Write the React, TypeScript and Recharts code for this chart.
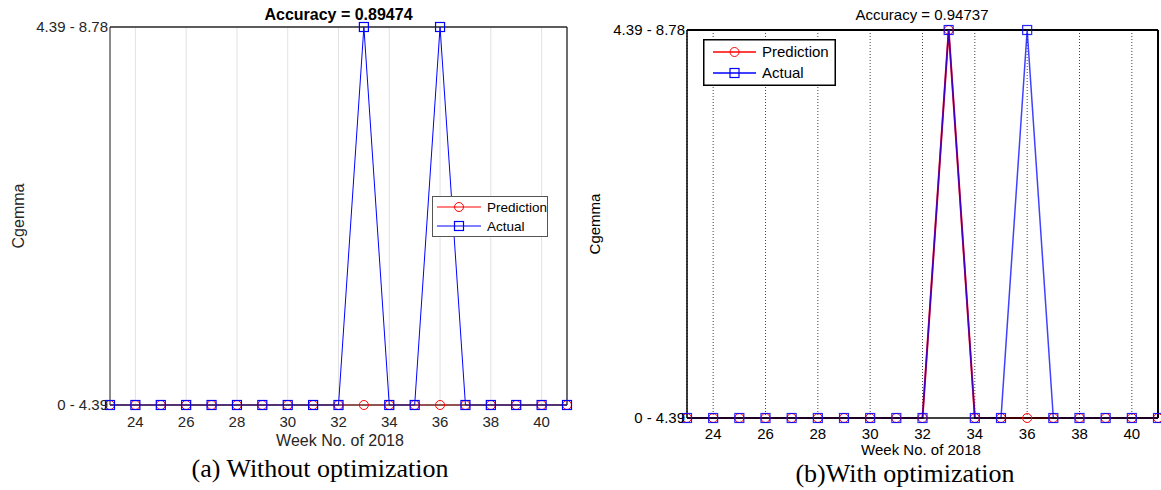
import React from 'react';
import { LineChart, Line, XAxis, YAxis, CartesianGrid, Legend, ReferenceLine } from 'recharts';

// week numbers on the x axis
const weeks = [23, 24, 25, 26, 27, 28, 29, 30, 31, 32, 33, 34, 35, 36, 37, 38, 39, 40, 41];
// class index: 0 = "0 - 4.39", 1 = "4.39 - 8.78"
const actual = [0, 0, 0, 0, 0, 0, 0, 0, 0, 0, 1, 0, 0, 1, 0, 0, 0, 0, 0];
const predictionNoOpt = [0, 0, 0, 0, 0, 0, 0, 0, 0, 0, 0, 0, 0, 0, 0, 0, 0, 0, 0];
const predictionOpt = [0, 0, 0, 0, 0, 0, 0, 0, 0, 0, 1, 0, 0, 0, 0, 0, 0, 0, 0];
const xTicks = [24, 26, 28, 30, 32, 34, 36, 38, 40];
const yTickLabels = ['0 - 4.39', '4.39 - 8.78'];
const titles = ['Accuracy = 0.89474', 'Accuracy = 0.94737'];
const captions = ['(a) Without optimization', '(b)With optimization'];

const SANS = '"Liberation Sans", Arial, sans-serif';
const SERIF = '"Liberation Serif", "Times New Roman", serif';
const RED = '#ff0000';
const BLUE = '#0000ff';

const dataNoOpt = weeks.map((week, i) => ({ week, prediction: predictionNoOpt[i], actual: actual[i] }));
const dataOpt = weeks.map((week, i) => ({ week, prediction: predictionOpt[i], actual: actual[i] }));

const circleDot = (color: string) => (props: any) => {
  const { cx, cy, index } = props;
  if (cx == null || cy == null) return <g key={`c-${index}`} />;
  return <circle key={`c-${index}`} cx={cx} cy={cy} r={4.5} fill="none" stroke={color} strokeWidth={1} />;
};

const squareDot = (color: string, opacity = 1) => (props: any) => {
  const { cx, cy, index } = props;
  if (cx == null || cy == null) return <g key={`s-${index}`} />;
  return (
    <rect key={`s-${index}`} x={cx - 4.5} y={cy - 4.5} width={9} height={9} fill="none"
      stroke={color} strokeOpacity={opacity} strokeWidth={1.2} />
  );
};

const Txt = ({ x, y, children, style }: any) => (
  <div style={{
    position: 'absolute', left: x, top: y, transform: 'translate(-50%, -50%)',
    whiteSpace: 'nowrap', lineHeight: 1, ...style,
  }}>{children}</div>
);

const makeLegend = (w: number, h: number, rows: number[], lineX: [number, number], textX: number,
  fontSize: number, border: string, borderW: number, lineW: number) => () => (
  <svg width={w} height={h} style={{ display: 'block' }}>
    <rect x={borderW / 2} y={borderW / 2} width={w - borderW} height={h - borderW} fill="#fff" stroke={border} strokeWidth={borderW} />
    {[
      { name: 'Prediction', color: RED, shape: 'circle' },
      { name: 'Actual', color: BLUE, shape: 'square' },
    ].map((item, i) => {
      const y = rows[i];
      const mx = (lineX[0] + lineX[1]) / 2;
      return (
        <g key={item.name}>
          <line x1={lineX[0]} x2={lineX[1]} y1={y} y2={y} stroke={item.color} strokeWidth={lineW} />
          {item.shape === 'circle'
            ? <circle cx={mx} cy={y} r={4.5} fill="none" stroke={item.color} />
            : <rect x={mx - 4.5} y={y - 4.5} width={9} height={9} fill="none" stroke={item.color} strokeWidth={1.2} />}
          <text x={textX} y={y} dy="0.35em" fontSize={fontSize} fontFamily={SANS} fill="#000">{item.name}</text>
        </g>
      );
    })}
  </svg>
);

const App: React.FC = () => {
  return (
    <div style={{ position: 'absolute', left: 0, top: 0, width: 1161, height: 490, background: '#fff', overflow: 'hidden' }}>
      {/* (a) without optimization */}
      <div style={{ position: 'absolute', left: 0, top: 0 }}>
        <LineChart width={580} height={490} data={dataNoOpt} margin={{ top: 27, right: 13, bottom: 0, left: 0 }}>
          <CartesianGrid horizontal={false} stroke="#e2e2e2" />
          <XAxis dataKey="week" type="number" domain={[23, 41]} ticks={xTicks} height={85}
            axisLine={{ stroke: '#262626' }} tickLine={false} tickSize={0} tickMargin={11}
            tick={{ fontSize: 15, fill: '#262626', fontFamily: SANS }} />
          <YAxis type="number" domain={[0, 1]} ticks={[0, 1]} width={110}
            tickFormatter={(v: number) => yTickLabels[v]} axisLine={{ stroke: '#262626' }}
            tickLine={false} tickSize={0} tickMargin={2}
            tick={{ fontSize: 15, fill: '#262626', fontFamily: SANS }} />
          {/* box: top and right edges */}
          <ReferenceLine y={1} stroke="#262626" strokeWidth={1.3} />
          <ReferenceLine x={41} stroke="#262626" strokeWidth={1.3} />
          <Legend layout="horizontal" verticalAlign="middle" align="center"
            wrapperStyle={{ left: 432, top: 196, width: 116, height: 41 }}
            content={makeLegend(116, 41, [11, 30], [5, 49], 55, 13.5, '#555', 1, 1)} />
          <Line dataKey="prediction" stroke={RED} strokeWidth={1} dot={circleDot(RED)} isAnimationActive={false} />
          <Line dataKey="actual" stroke={BLUE} strokeWidth={1} dot={squareDot(BLUE)} isAnimationActive={false} />
        </LineChart>
      </div>
      <Txt x={338.5} y={15} style={{ fontFamily: SANS, fontSize: 16, fontWeight: 'bold' }}>{titles[0]}</Txt>
      <Txt x={340} y={441} style={{ fontFamily: SANS, fontSize: 16, color: '#262626' }}>Week No. of 2018</Txt>
      <Txt x={19} y={216} style={{ fontFamily: SANS, fontSize: 16, color: '#262626', transform: 'translate(-50%, -50%) rotate(-90deg)' }}>Cgemma</Txt>
      <Txt x={320} y={469} style={{ fontFamily: SERIF, fontSize: 26 }}>{captions[0]}</Txt>

      {/* (b) with optimization */}
      <div style={{ position: 'absolute', left: 580, top: 0 }}>
        <LineChart width={581} height={490} data={dataOpt} margin={{ top: 30, right: 3, bottom: 0, left: 0 }}>
          <CartesianGrid horizontal={false} stroke="#444" strokeDasharray="1 2" />
          <XAxis dataKey="week" type="number" domain={[23, 41]} ticks={xTicks} height={72}
            axisLine={{ stroke: '#000', strokeWidth: 1.5 }} tickLine={false} tickSize={0} tickMargin={10}
            tick={{ fontSize: 15, fill: '#000', fontFamily: SANS }} />
          <YAxis type="number" domain={[0, 1]} ticks={[0, 1]} width={107}
            tickFormatter={(v: number) => yTickLabels[v]} axisLine={{ stroke: '#000', strokeWidth: 1.5 }}
            tickLine={false} tickSize={0} tickMargin={2}
            tick={{ fontSize: 15, fill: '#000', fontFamily: SANS }} />
          <ReferenceLine y={1} stroke="#000" strokeWidth={2} />
          <ReferenceLine x={41} stroke="#000" strokeWidth={2} />
          <Legend layout="horizontal" verticalAlign="middle" align="center"
            wrapperStyle={{ left: 123, top: 39, width: 133, height: 47 }}
            content={makeLegend(133, 47, [13, 34], [10, 53], 59, 15, '#000', 1.5, 1.5)} />
          <Line dataKey="prediction" stroke={RED} strokeWidth={2} dot={circleDot(RED)} isAnimationActive={false} />
          <Line dataKey="actual" stroke={BLUE} strokeWidth={1.5} strokeOpacity={0.75} dot={squareDot(BLUE, 0.85)} isAnimationActive={false} />
        </LineChart>
      </div>
      <Txt x={922} y={14} style={{ fontFamily: SANS, fontSize: 15 }}>{titles[1]}</Txt>
      <Txt x={921} y={449} style={{ fontFamily: SANS, fontSize: 15 }}>Week No. of 2018</Txt>
      <Txt x={594} y={224} style={{ fontFamily: SANS, fontSize: 15, transform: 'translate(-50%, -50%) rotate(-90deg)' }}>Cgemma</Txt>
      <Txt x={905} y={474} style={{ fontFamily: SERIF, fontSize: 26 }}>{captions[1]}</Txt>
    </div>
  );
};

export default App;
